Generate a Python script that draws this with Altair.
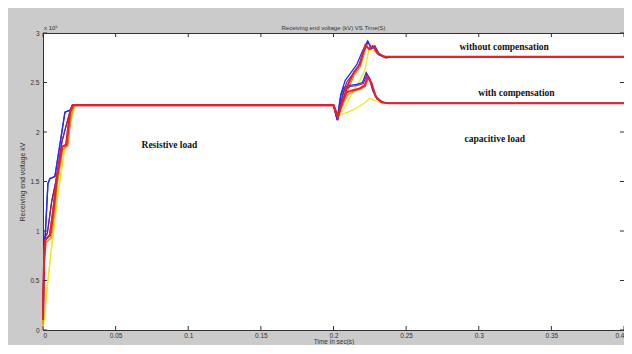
import altair as alt
import pandas as pd

# ---------------- data (time in s, voltage in x10^5 V) ----------------
blue_init_t = [0, 0.0008, 0.0014, 0.0034, 0.0048, 0.0082, 0.0151, 0.0186, 0.0206]
blue_init_v = [0.15, 0.75, 0.92, 1.48, 1.53, 1.55, 2.20, 2.22, 2.27]
red_init_t = [0, 0.0008, 0.0016, 0.0048, 0.0070, 0.0096, 0.0131, 0.0160, 0.0186, 0.0206]
red_init_v = [0.10, 0.75, 0.91, 0.96, 1.20, 1.55, 1.85, 1.87, 2.20, 2.27]
orange_init_t = [0, 0.001, 0.002, 0.0055, 0.0075, 0.0100, 0.0135, 0.0170, 0.0195, 0.0215]
orange_init_v = [0.05, 0.70, 0.88, 0.93, 1.15, 1.50, 1.82, 1.86, 2.18, 2.27]
purple_init_t = [0, 0.0006, 0.0012, 0.003, 0.006, 0.0095, 0.013, 0.0175, 0.02]
purple_init_v = [0.20, 0.70, 0.93, 0.98, 1.30, 1.55, 1.90, 2.15, 2.27]
yellow_init_t = [0, 0.003, 0.006, 0.010, 0.014, 0.018, 0.022]
yellow_init_v = [0.0, 0.45, 0.85, 1.35, 1.75, 2.05, 2.27]

# without compensation (after load change at t = 0.2 s)
blue_wo_t = [0.2, 0.2025, 0.205, 0.208, 0.212, 0.216, 0.22, 0.2235, 0.226, 0.228, 0.231, 0.236, 0.24, 0.4]
blue_wo_v = [2.27, 2.13, 2.38, 2.52, 2.60, 2.68, 2.82, 2.92, 2.84, 2.86, 2.78, 2.75, 2.76, 2.76]
purple_wo_t = [0.2, 0.2028, 0.2055, 0.209, 0.213, 0.217, 0.2205, 0.2238, 0.2262, 0.2285, 0.2315, 0.237, 0.241, 0.4]
purple_wo_v = [2.27, 2.12, 2.33, 2.50, 2.58, 2.66, 2.80, 2.91, 2.85, 2.87, 2.79, 2.75, 2.76, 2.76]
red_wo_t = [0.2, 0.203, 0.206, 0.21, 0.214, 0.218, 0.222, 0.2245, 0.227, 0.23, 0.235, 0.24, 0.4]
red_wo_v = [2.27, 2.15, 2.30, 2.48, 2.60, 2.68, 2.88, 2.84, 2.87, 2.80, 2.76, 2.76, 2.76]
orange_wo_t = [0.2, 0.2032, 0.2065, 0.2105, 0.2145, 0.2185, 0.2225, 0.225, 0.2275, 0.2305, 0.2355, 0.241, 0.4]
orange_wo_v = [2.27, 2.16, 2.28, 2.45, 2.58, 2.66, 2.86, 2.83, 2.86, 2.79, 2.75, 2.76, 2.76]
yellow_wo_t = [0.2, 0.203, 0.208, 0.213, 0.218, 0.2215, 0.2245, 0.228, 0.232, 0.237, 0.4]
yellow_wo_v = [2.27, 2.16, 2.25, 2.40, 2.52, 2.62, 2.84, 2.82, 2.78, 2.76, 2.76]

# with compensation
blue_w_t = [0.2, 0.2025, 0.205, 0.207, 0.211, 0.216, 0.22, 0.2225, 0.2245, 0.227, 0.23, 0.234, 0.238, 0.4]
blue_w_v = [2.27, 2.12, 2.36, 2.45, 2.47, 2.48, 2.50, 2.60, 2.55, 2.42, 2.33, 2.30, 2.29, 2.29]
purple_w_t = [0.2, 0.2028, 0.2055, 0.2075, 0.2115, 0.2165, 0.2205, 0.223, 0.225, 0.2275, 0.2305, 0.2345, 0.2385, 0.4]
purple_w_v = [2.27, 2.12, 2.33, 2.43, 2.46, 2.47, 2.49, 2.58, 2.54, 2.41, 2.33, 2.30, 2.29, 2.29]
red_w_t = [0.2, 0.203, 0.206, 0.209, 0.213, 0.218, 0.2215, 0.2235, 0.226, 0.229, 0.233, 0.238, 0.4]
red_w_v = [2.27, 2.15, 2.30, 2.40, 2.42, 2.44, 2.47, 2.56, 2.50, 2.36, 2.30, 2.29, 2.29]
orange_w_t = [0.2, 0.2032, 0.2065, 0.21, 0.214, 0.2185, 0.222, 0.224, 0.2265, 0.2295, 0.234, 0.239, 0.4]
orange_w_v = [2.27, 2.17, 2.28, 2.38, 2.41, 2.43, 2.46, 2.54, 2.48, 2.35, 2.30, 2.29, 2.29]
yellow_w_t = [0.2, 0.203, 0.208, 0.213, 0.218, 0.222, 0.225, 0.228, 0.232, 0.237, 0.4]
yellow_w_v = [2.27, 2.16, 2.19, 2.22, 2.26, 2.30, 2.34, 2.32, 2.30, 2.29, 2.29]

x_ticks = [0, 0.05, 0.1, 0.15, 0.2, 0.25, 0.3, 0.35, 0.4]
y_ticks = [0, 0.5, 1, 1.5, 2, 2.5, 3]

note_text = ["Resistive load", "without compensation", "with compensation", "capacitive load"]
note_t = [0.087, 0.3175, 0.326, 0.311]
note_v = [1.87, 2.86, 2.39, 1.93]

title_text = "Receiving end voltage (kV) VS Time(S)"
exponent_text = "x 10\u2075"

# ---------------- build table ----------------
inits = {
    "yellow": (yellow_init_t, yellow_init_v),
    "orange": (orange_init_t, orange_init_v),
    "purple": (purple_init_t, purple_init_v),
    "blue": (blue_init_t, blue_init_v),
    "red": (red_init_t, red_init_v),
}
trans = {
    "wo": {"yellow": (yellow_wo_t, yellow_wo_v), "orange": (orange_wo_t, orange_wo_v),
           "purple": (purple_wo_t, purple_wo_v), "blue": (blue_wo_t, blue_wo_v),
           "red": (red_wo_t, red_wo_v)},
    "w": {"yellow": (yellow_w_t, yellow_w_v), "orange": (orange_w_t, orange_w_v),
          "purple": (purple_w_t, purple_w_v), "blue": (blue_w_t, blue_w_v),
          "red": (red_w_t, red_w_v)},
}
color_order = ["yellow", "orange", "purple", "blue", "red"]
rows = []
for col in color_order:
    for case in ["w", "wo"]:
        it, iv = inits[col]
        tt, tv = trans[case][col]
        ts = list(it) + list(tt)
        vs = list(iv) + list(tv)
        for i, (a, b) in enumerate(zip(ts, vs)):
            rows.append({"series": f"{col}_{case}", "color": col, "i": i, "t": a, "v": b})
df = pd.DataFrame(rows)

colors = {"yellow": "#f2e81c", "orange": "#f08a1c", "purple": "#7a1f7a",
          "blue": "#2b2bf0", "red": "#e8202a"}
widths = {"yellow": 1.3, "orange": 1.3, "purple": 1.2, "blue": 1.3, "red": 2.0}

W, H = 581, 297
label_font = "Liberation Sans"

x_enc = alt.X("t:Q", scale=alt.Scale(domain=[0, 0.4], nice=False, zero=False),
              axis=alt.Axis(values=x_ticks, format="~g", title="Time in sec(s)",
                            ticks=False, labelOverlap=False, labelPadding=2,
                            labelFontSize=6.5, titleFontSize=6.5, titlePadding=0,
                            titleFontWeight="normal", labelColor="#333",
                            titleColor="#333", grid=False, domainColor="#333",
                            labelFont=label_font, titleFont=label_font))
y_enc = alt.Y("v:Q", scale=alt.Scale(domain=[0, 3], nice=False),
              axis=alt.Axis(values=y_ticks, format="~g", title="Receiving end voltage kV",
                            ticks=False, labelOverlap=False, labelPadding=4,
                            labelFontSize=6.5, titleFontSize=7, titlePadding=4,
                            titleFontWeight="normal", labelColor="#333",
                            titleColor="#333", grid=False, domainColor="#333",
                            labelFont=label_font, titleFont=label_font))

# draw every non-red trace first so that the red traces end up on top
layers = []
for col in color_order:
    for case in ["w", "wo"]:
        name = f"{col}_{case}"
        layers.append(
            alt.Chart(df).transform_filter(alt.datum.series == name)
            .mark_line(color=colors[col], strokeWidth=widths[col])
            .encode(x=x_enc, y=y_enc, order="i:Q")
        )

xt = pd.DataFrame({"t": x_ticks})
yt = pd.DataFrame({"v": y_ticks})
tick_layers = [
    alt.Chart(xt).mark_rule(color="#333").encode(x=x_enc, y=alt.value(H - 4), y2=alt.value(H)),
    alt.Chart(xt).mark_rule(color="#333").encode(x=x_enc, y=alt.value(0), y2=alt.value(4)),
    alt.Chart(yt).mark_rule(color="#333").encode(y=y_enc, x=alt.value(0), x2=alt.value(4)),
    alt.Chart(yt).mark_rule(color="#333").encode(y=y_enc, x=alt.value(W - 4), x2=alt.value(W)),
]

notes = pd.DataFrame({"label": note_text, "t": note_t, "v": note_v})
note_layer = alt.Chart(notes).mark_text(
    font="Liberation Serif", fontWeight="bold", fontSize=9.5, color="#111"
).encode(x=x_enc, y=y_enc, text="label:N")

head = pd.DataFrame({"s": [title_text]})
title_layer = alt.Chart(head).mark_text(
    font=label_font, fontSize=6, color="#333", align="center", baseline="bottom"
).encode(x=alt.value(W / 2), y=alt.value(-2), text="s:N")

exp_layer = alt.Chart(pd.DataFrame({"s": [exponent_text]})).mark_text(
    font=label_font, fontSize=6, color="#333", align="left", baseline="bottom"
).encode(x=alt.value(1), y=alt.value(-2), text="s:N")

chart = alt.layer(*layers, *tick_layers, note_layer, title_layer, exp_layer).properties(
    width=W, height=H,
    autosize=alt.AutoSizeParams(type="none"),
    padding={"left": 35, "top": 25, "right": 0, "bottom": 15},
    background="#cbcbcb",
).configure_view(fill="white", stroke="#333", strokeWidth=1)

chart.save("out.html", embed_options={"renderer": "svg", "actions": False})
